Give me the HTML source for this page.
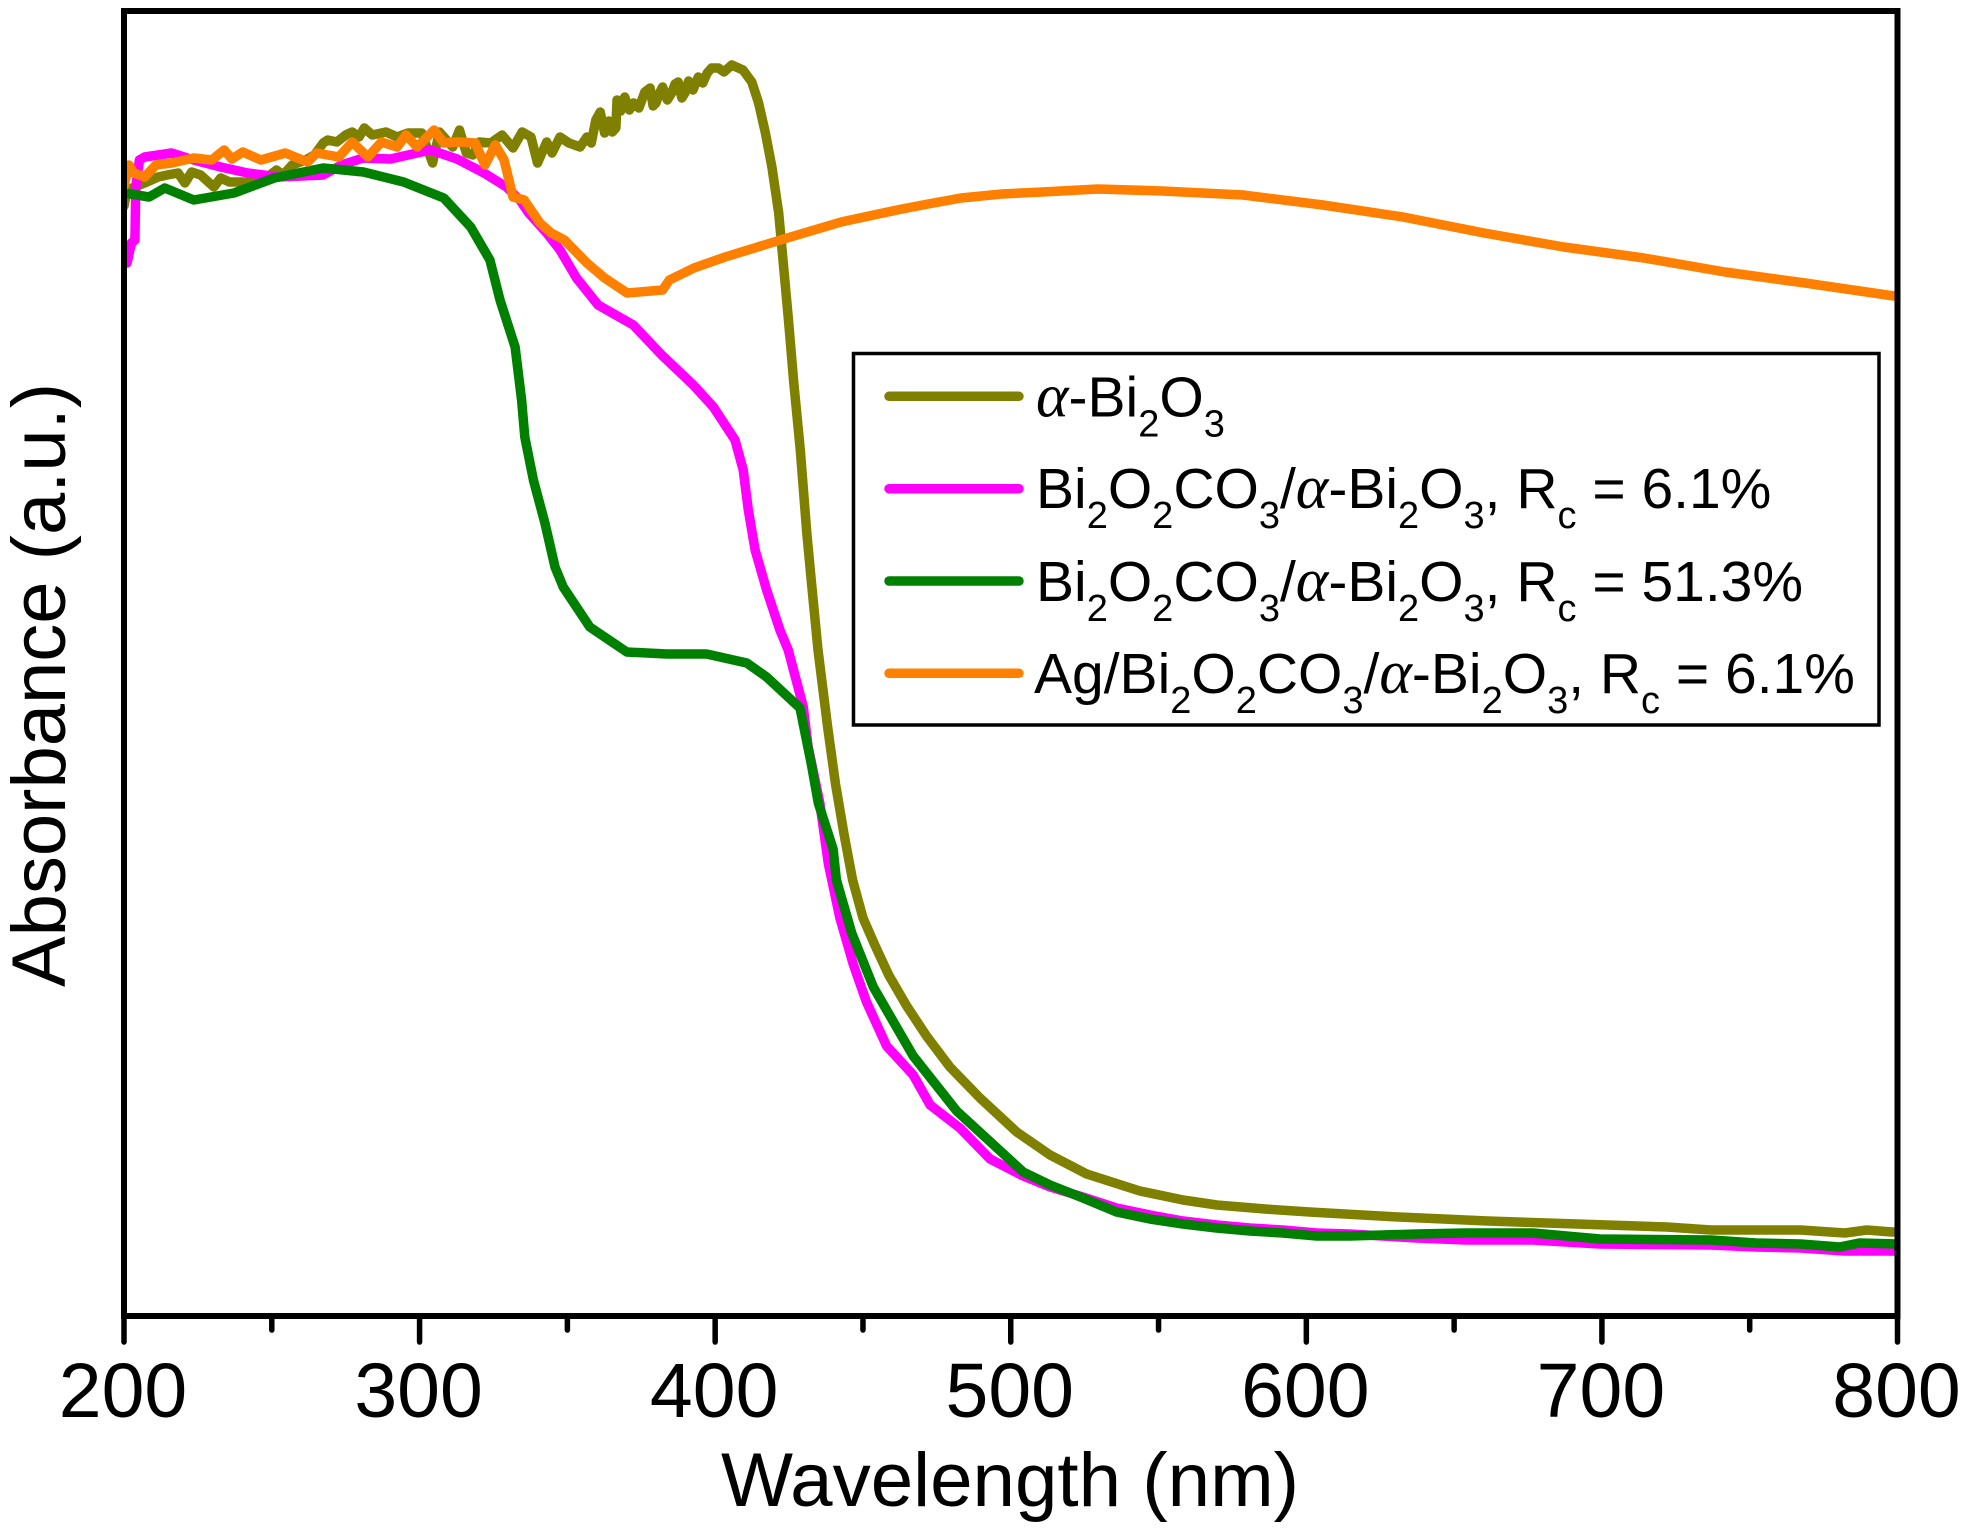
<!DOCTYPE html>
<html lang="en">
<head>
<meta charset="utf-8">
<title>Absorbance vs Wavelength</title>
<style>
html,body{margin:0;padding:0;background:#fff;}
svg{display:block;}
text{font-family:"Liberation Sans",sans-serif;fill:#000;}
.alpha{font-family:"Liberation Serif",serif;font-style:italic;font-size:62px;}
.leg{font-size:57px;}
.sub{font-size:38px;}
</style>
</head>
<body>
<svg id="chart" xmlns="http://www.w3.org/2000/svg" width="1965" height="1528" viewBox="0 0 1965 1528">
  <defs>
    <clipPath id="plot-clip"><rect x="124" y="11" width="1773.5" height="1305"/></clipPath>
  </defs>
  <rect x="0" y="0" width="1965" height="1528" fill="#fff"/>
  <g id="series" clip-path="url(#plot-clip)" fill="none" stroke-width="9.5" stroke-linejoin="round" stroke-linecap="round"></g>
  <rect x="124" y="11" width="1773.5" height="1305" fill="none" stroke="#000" stroke-width="6"/>
  <g id="ticks"></g>
  <text x="1010" y="1506" font-size="76.3" text-anchor="middle">Wavelength (nm)</text>
  <text transform="translate(65,685) rotate(-90)" font-size="76" text-anchor="middle">Absorbance (a.u.)</text>

  <g>
    <rect x="853.5" y="353.5" width="1025.5" height="371.5" fill="#fff" stroke="#000" stroke-width="3.5"/>
    <line x1="889" y1="396.3" x2="1019" y2="396.3" stroke="#808000" stroke-width="9.5" stroke-linecap="round"/>
    <line x1="889" y1="488.7" x2="1019" y2="488.7" stroke="#ff00ff" stroke-width="9.5" stroke-linecap="round"/>
    <line x1="889" y1="581" x2="1019" y2="581" stroke="#008000" stroke-width="9.5" stroke-linecap="round"/>
    <line x1="889" y1="673.3" x2="1019" y2="673.3" stroke="#ff8000" stroke-width="9.5" stroke-linecap="round"/>
    <text class="leg" x="1036" y="416.5"><tspan class="alpha">α</tspan>-Bi<tspan class="sub" dy="20">2</tspan><tspan dy="-20">O</tspan><tspan class="sub" dy="20">3</tspan></text>
    <text class="leg" x="1036" y="508">Bi<tspan class="sub" dy="20">2</tspan><tspan dy="-20">O</tspan><tspan class="sub" dy="20">2</tspan><tspan dy="-20">CO</tspan><tspan class="sub" dy="20">3</tspan><tspan dy="-20">/</tspan><tspan class="alpha">α</tspan>-Bi<tspan class="sub" dy="20">2</tspan><tspan dy="-20">O</tspan><tspan class="sub" dy="20">3</tspan><tspan dy="-20">, R</tspan><tspan class="sub" dy="20">c</tspan><tspan dy="-20"> = 6.1%</tspan></text>
    <text class="leg" x="1036" y="601">Bi<tspan class="sub" dy="20">2</tspan><tspan dy="-20">O</tspan><tspan class="sub" dy="20">2</tspan><tspan dy="-20">CO</tspan><tspan class="sub" dy="20">3</tspan><tspan dy="-20">/</tspan><tspan class="alpha">α</tspan>-Bi<tspan class="sub" dy="20">2</tspan><tspan dy="-20">O</tspan><tspan class="sub" dy="20">3</tspan><tspan dy="-20">, R</tspan><tspan class="sub" dy="20">c</tspan><tspan dy="-20"> = 51.3%</tspan></text>
    <text class="leg" x="1034" y="693">Ag/Bi<tspan class="sub" dy="20">2</tspan><tspan dy="-20">O</tspan><tspan class="sub" dy="20">2</tspan><tspan dy="-20">CO</tspan><tspan class="sub" dy="20">3</tspan><tspan dy="-20">/</tspan><tspan class="alpha">α</tspan>-Bi<tspan class="sub" dy="20">2</tspan><tspan dy="-20">O</tspan><tspan class="sub" dy="20">3</tspan><tspan dy="-20">, R</tspan><tspan class="sub" dy="20">c</tspan><tspan dy="-20"> = 6.1%</tspan></text>
  </g>
</svg>
<script>
const majorTicks = [200, 300, 400, 500, 600, 700, 800];
const minorTicks = [250, 350, 450, 550, 650, 750];

const oliveNm = [200,201,207,211.5,214.6,218.3,220.6,222.9,225.9,230.4,232.7,235.7,240.2,244,248.5,251.6,253.8,256.9,261.4,264.4,267.4,268.9,272,275,277.2,279.5,281.3,284,288.6,292.4,296.1,300.7,304.4,306.7,311.2,313.5,315.8,318,320.3,324.1,327.9,331.6,334.7,337.7,339.9,343,344.8,347.5,350.5,354.3,356.6,358.1,359.6,361.1,362.6,364,365.2,366.4,366.8,368,369.4,371,372.4,374.2,376.2,378,379,380,381,382.2,383.8,385.3,386.4,387.5,388.7,389.8,391,392.5,394.3,395.8,397.3,398.8,401.1,403,405.6,409.4,412.4,414.7,417,419.2,421.5,424.7,426.6,428.8,431,432.6,434.8,438,440.7,443.6,446.5,450,454,458.7,464.8,471.5,479.4,489.6,502,513.3,525.7,543.7,558.3,569.7,586,601.1,631.3,661.4,691.7,722,736.9,752.1,767.2,782.2,789.6,798.1,800];
const oliveAbs = [1.11,1.126,1.133,1.139,1.141,1.143,1.133,1.144,1.141,1.129,1.138,1.134,1.134,1.133,1.139,1.146,1.141,1.151,1.156,1.161,1.173,1.176,1.174,1.181,1.184,1.179,1.188,1.181,1.184,1.179,1.183,1.183,1.153,1.184,1.169,1.186,1.163,1.161,1.174,1.173,1.181,1.168,1.184,1.179,1.153,1.174,1.163,1.179,1.173,1.169,1.179,1.173,1.196,1.204,1.183,1.195,1.184,1.188,1.216,1.205,1.219,1.206,1.213,1.208,1.224,1.228,1.21,1.213,1.222,1.229,1.216,1.223,1.232,1.234,1.218,1.223,1.235,1.226,1.239,1.233,1.243,1.248,1.248,1.244,1.251,1.246,1.234,1.213,1.183,1.149,1.103,0.999,0.933,0.866,0.783,0.733,0.666,0.59,0.532,0.482,0.436,0.398,0.371,0.341,0.31,0.28,0.249,0.218,0.184,0.161,0.142,0.125,0.116,0.111,0.107,0.104,0.099,0.095,0.092,0.089,0.086,0.086,0.086,0.083,0.086,0.084,0.084];

const magentaNm = [200,201,202.5,203.7,204,205.2,207,216.1,223.6,232.7,241.8,252.3,267.4,273.5,281,290.1,303.7,312.7,321.8,329.4,333.9,336.9,343,347.5,353.1,360.4,372.3,381.9,392.6,399.4,406.7,409.5,411.2,413.5,417.4,421.9,424.7,429.8,431.4,435.4,438.3,442.2,446.7,451.2,458,467,472.7,482.8,493,504.2,513.3,524.4,535.8,547.1,558.3,569.6,580.9,592.1,603.5,614.7,625.9,637.4,653.9,676.6,699.3,736.9,752.1,767.2,782.2,800];
const magentaAbs = [1.053,1.053,1.073,1.076,1.129,1.156,1.159,1.163,1.156,1.149,1.143,1.139,1.141,1.151,1.158,1.157,1.166,1.157,1.143,1.129,1.116,1.103,1.083,1.066,1.038,1.011,0.991,0.961,0.931,0.909,0.876,0.846,0.806,0.766,0.726,0.686,0.666,0.609,0.57,0.513,0.452,0.398,0.352,0.314,0.27,0.241,0.211,0.188,0.157,0.14,0.129,0.119,0.108,0.101,0.095,0.091,0.088,0.086,0.083,0.082,0.08,0.078,0.076,0.076,0.072,0.071,0.069,0.068,0.065,0.065];

const greenNm = [200,208.5,213.8,223.6,237.2,250.8,267.4,281,294.6,308.2,317.3,323.8,327.2,332.3,334.5,335.6,338.5,342.4,345.8,348.6,357.6,370.1,383.6,397.1,410.7,417.4,428.7,432.6,434.9,439.9,441,446.2,453.5,467,481.7,504.2,513.3,524.4,535.8,547.1,558.3,569.6,580.9,592.1,603.5,614.7,625.9,637.4,653.9,676.6,699.3,736.9,752.1,767.2,780.4,787.1,800];
const greenAbs = [1.123,1.119,1.128,1.116,1.123,1.138,1.148,1.144,1.134,1.118,1.089,1.056,1.016,0.969,0.916,0.879,0.836,0.793,0.749,0.729,0.689,0.664,0.662,0.662,0.653,0.639,0.608,0.551,0.513,0.467,0.436,0.383,0.329,0.26,0.205,0.144,0.131,0.118,0.104,0.097,0.092,0.088,0.085,0.083,0.08,0.08,0.081,0.082,0.083,0.083,0.077,0.076,0.073,0.072,0.069,0.073,0.072];

const orangeNm = [200,200.7,201.7,203.2,207,210.8,216.1,223.6,229.7,233.9,236.5,240.2,246.3,254.6,262.1,265.2,272.7,277.2,282.5,287.1,292.4,295.4,299.2,304.9,308.2,312.7,318.8,322.1,325.6,328.6,331.6,335.4,340.7,344.5,349,356.6,362.6,370.2,382.2,384.5,392.8,403.4,422.1,442.6,461.5,472,483.2,497,510.6,529.5,551.2,578.6,605.6,632.7,660.1,687.1,714.2,741.6,768.7,798.8,800];
const orangeAbs = [1.13,1.139,1.151,1.143,1.139,1.151,1.153,1.158,1.156,1.166,1.157,1.164,1.156,1.163,1.154,1.163,1.159,1.174,1.159,1.174,1.169,1.181,1.169,1.186,1.173,1.174,1.173,1.151,1.171,1.156,1.119,1.116,1.093,1.083,1.076,1.053,1.038,1.023,1.026,1.036,1.048,1.059,1.076,1.094,1.106,1.112,1.118,1.122,1.124,1.127,1.125,1.121,1.111,1.099,1.083,1.069,1.058,1.044,1.033,1.02,1.02];

const svgNS = 'http://www.w3.org/2000/svg';
const xDomain = [200, 800];
const yDomain = [0, 1.305];
const xRange = [124, 1897.5];
const yRange = [1316, 11];
function xScale(nm) {
  return xRange[0] + (nm - xDomain[0]) / (xDomain[1] - xDomain[0]) * (xRange[1] - xRange[0]);
}
function yScale(a) {
  return yRange[0] + (a - yDomain[0]) / (yDomain[1] - yDomain[0]) * (yRange[1] - yRange[0]);
}
function linePath(xs, ys) {
  return xs.map(function (v, i) {
    return (i ? 'L' : 'M') + xScale(v).toFixed(1) + ' ' + yScale(ys[i]).toFixed(1);
  }).join('');
}

const seriesGroup = document.getElementById('series');

const oliveLine = document.createElementNS(svgNS, 'path');


oliveLine.setAttribute('stroke', '#808000');
oliveLine.setAttribute('d', linePath(oliveNm, oliveAbs));
seriesGroup.appendChild(oliveLine);

const magentaLine = document.createElementNS(svgNS, 'path');


magentaLine.setAttribute('stroke', '#ff00ff');
magentaLine.setAttribute('d', linePath(magentaNm, magentaAbs));
seriesGroup.appendChild(magentaLine);

const greenLine = document.createElementNS(svgNS, 'path');


greenLine.setAttribute('stroke', '#008000');
greenLine.setAttribute('d', linePath(greenNm, greenAbs));
seriesGroup.appendChild(greenLine);

const orangeLine = document.createElementNS(svgNS, 'path');


orangeLine.setAttribute('stroke', '#ff8000');
orangeLine.setAttribute('d', linePath(orangeNm, orangeAbs));
seriesGroup.appendChild(orangeLine);

const tickGroup = document.getElementById('ticks');
majorTicks.forEach(function (t) {
  const tick = document.createElementNS(svgNS, 'line');
  
  
  tick.setAttribute('x1', xScale(t));
  tick.setAttribute('x2', xScale(t));
  tick.setAttribute('y1', 1316);
  tick.setAttribute('y2', 1342);
  tick.setAttribute('stroke', '#000');
  tick.setAttribute('stroke-width', 5.5);
  tick.setAttribute('stroke-linecap', 'round');
  tickGroup.appendChild(tick);
  const label = document.createElementNS(svgNS, 'text');
  
  
  label.setAttribute('x', xScale(t) - 1);
  label.setAttribute('y', 1417);
  label.setAttribute('font-size', 77);
  label.setAttribute('text-anchor', 'middle');
  label.textContent = String(t);
  tickGroup.appendChild(label);
});
minorTicks.forEach(function (t) {
  const tick = document.createElementNS(svgNS, 'line');
  
  
  tick.setAttribute('x1', xScale(t));
  tick.setAttribute('x2', xScale(t));
  tick.setAttribute('y1', 1316);
  tick.setAttribute('y2', 1330);
  tick.setAttribute('stroke', '#000');
  tick.setAttribute('stroke-width', 5.5);
  tick.setAttribute('stroke-linecap', 'round');
  tickGroup.appendChild(tick);
});
</script>
</body>
</html>
